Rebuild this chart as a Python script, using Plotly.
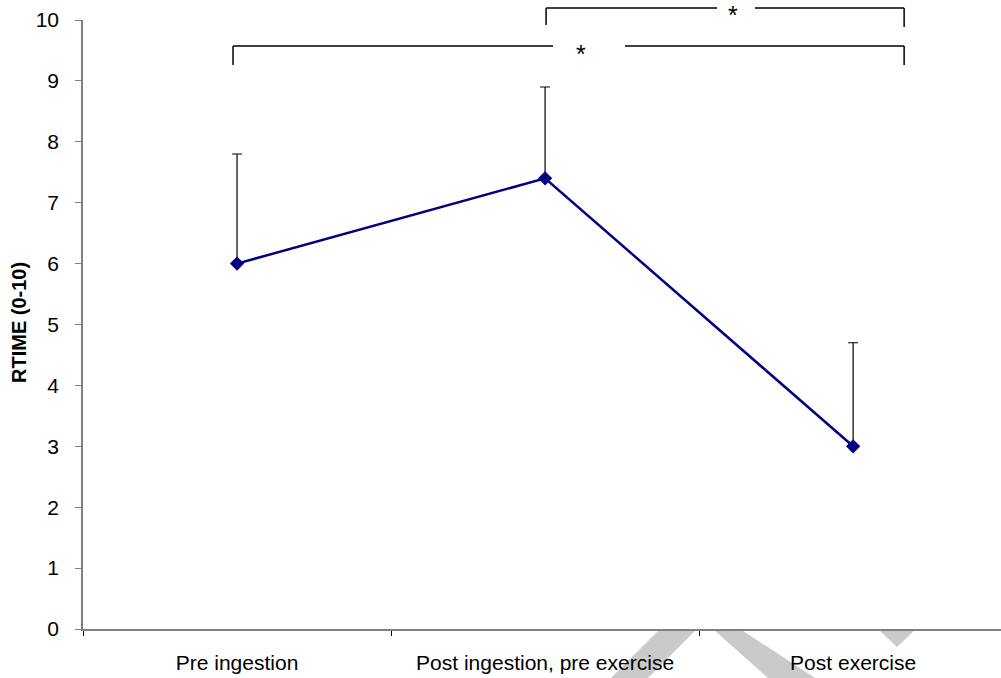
import plotly.graph_objects as go

categories = ["Pre ingestion", "Post ingestion, pre exercise", "Post exercise"]
means = [6.0, 7.4, 3.0]
err_plus = [1.8, 1.5, 1.7]
y_ticks = list(range(0, 11))

W, H = 1001, 678
L, R, T, B = 83, 0, 20, 49
PW = W - L - R
PH = H - T - B
X_RANGE = [-0.5, 2.48]
FONT = "Liberation Sans, Arial"


def px(xp):
    return (xp - L) / PW


def py(yp):
    return (H - B - yp) / PH


def cat_px(i):
    return L + (i - X_RANGE[0]) / (X_RANGE[1] - X_RANGE[0]) * PW


fig = go.Figure()
fig.add_trace(go.Scatter(
    x=categories, y=means, mode="lines+markers",
    line=dict(color="#000080", width=2.5),
    marker=dict(symbol="diamond", size=11, color="#000080"),
    error_y=dict(type="data", symmetric=False, array=err_plus,
                 arrayminus=[0, 0, 0], color="black", thickness=1.2, width=5),
    showlegend=False,
))

shapes = []
gray = "#cacaca"
for path_pts in [
    [(660, 629), (697, 629), (648, 678), (611, 678)],
    [(713, 629), (740, 629), (815, 678), (768, 678)],
    [(878, 629), (916, 629), (897, 647)],
]:
    d = "M " + " L ".join(f"{px(a)},{py(b)}" for a, b in path_pts) + " Z"
    shapes.append(dict(type="path", xref="paper", yref="paper", path=d,
                       fillcolor=gray, line=dict(width=0), layer="below"))

line_style = dict(color="black", width=1.5)
c0, c1, c2 = cat_px(0) - 4, cat_px(1) + 1, cat_px(2) + 51


def seg(x0, y0, x1, y1):
    shapes.append(dict(type="line", xref="paper", yref="paper",
                       x0=px(x0), y0=py(y0), x1=px(x1), y1=py(y1), line=line_style))


seg(c1, 8, 717, 8)
seg(755, 8, c2, 8)
seg(c1, 8, c1, 25)
seg(c2, 8, c2, 27)
seg(c0, 46, 553, 46)
seg(625, 46, c2, 46)
seg(c0, 46, c0, 65)
seg(c2, 46, c2, 65)

annotations = [
    dict(text="*", xref="paper", yref="paper", x=px(733), y=py(15),
         xanchor="center", yanchor="middle",
         showarrow=False, font=dict(size=25, color="black", family=FONT)),
    dict(text="*", xref="paper", yref="paper", x=px(581), y=py(54),
         xanchor="center", yanchor="middle",
         showarrow=False, font=dict(size=25, color="black", family=FONT)),
    dict(text="<b>RTIME (0-10)</b>", xref="paper", yref="paper", x=px(19), y=py(323),
         xanchor="center", yanchor="middle",
         textangle=-90, showarrow=False,
         font=dict(size=20, color="black", family=FONT)),
]

fig.update_layout(
    width=W, height=H,
    margin=dict(l=L, r=R, t=T, b=B),
    paper_bgcolor="white", plot_bgcolor="white",
    font=dict(family=FONT, size=21, color="black"),
    shapes=shapes, annotations=annotations,
    xaxis=dict(range=X_RANGE, showgrid=False, zeroline=False,
               showline=True, linecolor="#808080", linewidth=1.5,
               ticks="outside", ticklen=5, tickcolor="black", tickwidth=1,
               tickson="boundaries", ticklabelstandoff=14,
               tickfont=dict(size=21)),
    yaxis=dict(range=[0, 10], tickvals=y_ticks, showgrid=False, zeroline=False,
               showline=True, linecolor="#808080", linewidth=1.5,
               ticks="outside", ticklen=6, tickcolor="#808080", tickwidth=1,
               ticklabelstandoff=12, tickfont=dict(size=21)),
)

fig.write_html("out.html",
               config={"displayModeBar": False},
               post_script="document.body.style.margin='0';document.body.style.overflow='hidden';")
